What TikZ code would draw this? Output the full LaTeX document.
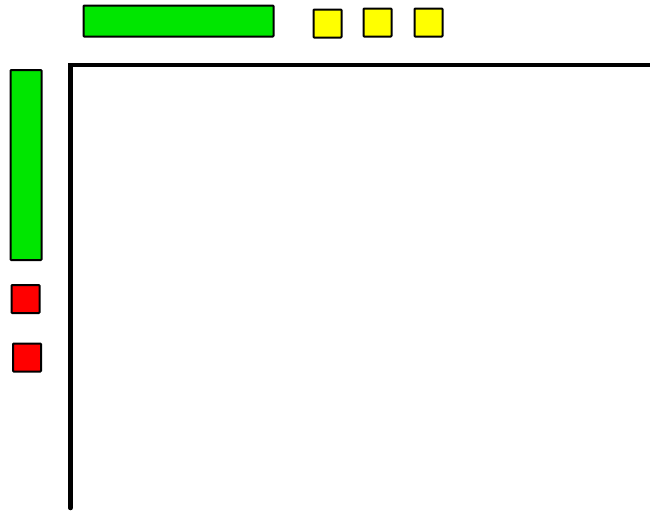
\documentclass[tikz,border=0pt]{standalone}
\begin{document}
\begin{tikzpicture}[x=1pt,y=-1pt,
  blk/.style={draw=black,line width=2pt,inner sep=0pt,outer sep=0pt,anchor=north west,rounded corners=0.8pt},
  greenblk/.style={blk,fill={rgb,255:red,0;green,230;blue,0}},
  yellowblk/.style={blk,fill={rgb,255:red,255;green,255;blue,0},minimum width=28pt,minimum height=28pt},
  redblk/.style={blk,fill={rgb,255:red,255;green,0;blue,0},minimum width=28pt,minimum height=28pt},
  axisline/.style={line width=4.5pt,line cap=round}]
\useasboundingbox (0,0) rectangle (650,514);
\node[greenblk,minimum width=190pt,minimum height=31pt] (gtop) at (83.5,5.5) {};
\node[yellowblk] (y1) at (313.5,9.5) {};
\node[yellowblk] (y2) at (363.5,8.5) {};
\node[yellowblk] (y3) at (414.5,8.5) {};
\node[greenblk,minimum width=31pt,minimum height=190pt] (gleft) at (10.5,70) {};
\node[redblk] (r1) at (11.5,285) {};
\node[redblk] (r2) at (13,343.5) {};
\coordinate (origin) at (70.5,65);
\coordinate (yend) at (70.5,508);
\coordinate (xend) at (652,65);
\draw[axisline] (yend) -- (origin) -- (xend);
\end{tikzpicture}
\end{document}
